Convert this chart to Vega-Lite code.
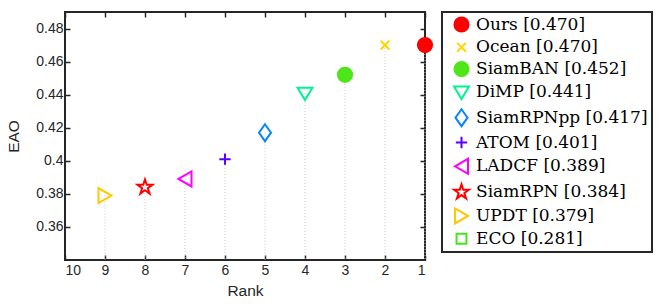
{
  "$schema": "https://vega.github.io/schema/vega-lite/v6.json",
  "width": 360,
  "height": 248,
  "autosize": {"type": "none"},
  "padding": {"left": 65, "top": 12, "right": 240, "bottom": 46},
  "background": "white",
  "data": {
    "values": [
      {"name": "Ours", "label": "Ours [0.470]", "rank": 1, "eao": 0.470},
      {"name": "Ocean", "label": "Ocean [0.470]", "rank": 2, "eao": 0.470},
      {"name": "SiamBAN", "label": "SiamBAN [0.452]", "rank": 3, "eao": 0.452},
      {"name": "DiMP", "label": "DiMP [0.441]", "rank": 4, "eao": 0.441},
      {"name": "SiamRPNpp", "label": "SiamRPNpp [0.417]", "rank": 5, "eao": 0.417},
      {"name": "ATOM", "label": "ATOM [0.401]", "rank": 6, "eao": 0.401},
      {"name": "LADCF", "label": "LADCF [0.389]", "rank": 7, "eao": 0.389},
      {"name": "SiamRPN", "label": "SiamRPN [0.384]", "rank": 8, "eao": 0.384},
      {"name": "UPDT", "label": "UPDT [0.379]", "rank": 9, "eao": 0.379},
      {"name": "ECO", "label": "ECO [0.281]", "rank": 10, "eao": 0.281}
    ]
  },
  "transform": [{"filter": "datum.eao >= 0.34"}],
  "layer": [
    {
      "mark": {"type": "rule", "strokeDash": [1, 2], "color": "#c4c4c4", "strokeWidth": 1},
      "encoding": {
        "x": {
          "field": "rank", "type": "quantitative",
          "scale": {"domain": [1, 10], "reverse": true, "nice": false, "zero": false},
          "axis": {"orient": "bottom", "values": [1,2,3,4,5,6,7,8,9,10], "title": "Rank", "titlePadding": 6, "labelPadding": 8}
        },
        "y": {
          "field": "eao", "type": "quantitative",
          "scale": {"domain": [0.34, 0.49], "nice": false, "zero": false},
          "axis": {"orient": "left", "values": [0.36,0.38,0.4,0.42,0.44,0.46,0.48], "format": ".2~f", "title": "EAO", "titlePadding": 14, "labelPadding": 7}
        },
        "y2": {"datum": 0.34}
      }
    },
    {
      "mark": {"type": "point", "strokeWidth": 2, "size": 200, "opacity": 1},
      "encoding": {
        "x": {
          "field": "rank", "type": "quantitative",
          "axis": {"orient": "top", "values": [1,2,3,4,5,6,7,8,9,10], "labels": false, "title": null}
        },
        "y": {
          "field": "eao", "type": "quantitative",
          "axis": {"orient": "right", "values": [0.36,0.38,0.4,0.42,0.44,0.46,0.48], "labels": false, "title": null}
        },
        "shape": {
          "field": "label", "type": "nominal",
          "scale": {
            "domain": ["Ours [0.470]", "Ocean [0.470]", "SiamBAN [0.452]", "DiMP [0.441]", "SiamRPNpp [0.417]", "ATOM [0.401]", "LADCF [0.389]", "SiamRPN [0.384]", "UPDT [0.379]", "ECO [0.281]"],
            "range": [
              "circle",
              "M-0.62,-0.62L0.62,0.62M-0.62,0.62L0.62,-0.62",
              "circle",
              "M-1.05,-0.75L1.05,-0.75L0,1.0Z",
              "M0,-1.2L0.85,0L0,1.2L-0.85,0Z",
              "M-0.8,0L0.8,0M0,-0.8L0,0.8",
              "M-0.92,0L0.92,-1.06L0.92,1.06Z",
              "M0,-1.1L0.247,-0.34L1.046,-0.34L0.4,0.13L0.647,0.89L0,0.42L-0.647,0.89L-0.4,0.13L-1.046,-0.34L-0.247,-0.34Z",
              "M0.92,0L-0.92,-1.06L-0.92,1.06Z",
              "M-0.7,-0.7L0.7,-0.7L0.7,0.7L-0.7,0.7Z"
            ]
          },
          "legend": {"title": null, "orient": "none", "legendX": 377, "legendY": 0}
        },
        "stroke": {
          "field": "label", "type": "nominal",
          "scale": {
            "domain": ["Ours [0.470]", "Ocean [0.470]", "SiamBAN [0.452]", "DiMP [0.441]", "SiamRPNpp [0.417]", "ATOM [0.401]", "LADCF [0.389]", "SiamRPN [0.384]", "UPDT [0.379]", "ECO [0.281]"],
            "range": ["#FF0000", "#FFD700", "#4DE619", "#00F293", "#0A84FF", "#5A00FF", "#FF00FF", "#FF0000", "#FFC800", "#44E61A"]
          },
          "legend": {"title": null, "orient": "none", "legendX": 377, "legendY": 0}
        },
        "fill": {
          "field": "label", "type": "nominal",
          "scale": {
            "domain": ["Ours [0.470]", "Ocean [0.470]", "SiamBAN [0.452]", "DiMP [0.441]", "SiamRPNpp [0.417]", "ATOM [0.401]", "LADCF [0.389]", "SiamRPN [0.384]", "UPDT [0.379]", "ECO [0.281]"],
            "range": ["#FF0000", "transparent", "#4DE619", "transparent", "transparent", "transparent", "transparent", "transparent", "transparent", "transparent"]
          },
          "legend": {"title": null, "orient": "none", "legendX": 377, "legendY": 0}
        }
      }
    }
  ],
  "resolve": {"axis": {"x": "independent", "y": "independent"}},
  "config": {
    "view": {"stroke": "#262626", "strokeWidth": 2},
    "axis": {
      "domain": false, "grid": false,
      "tickColor": "#262626", "tickSize": -5, "tickWidth": 1.5,
      "labelFont": "Liberation Sans", "labelFontSize": 14, "labelColor": "#262626",
      "titleFont": "Liberation Sans", "titleFontSize": 15.5, "titleFontWeight": "normal", "titleColor": "#262626"
    },
    "legend": {
      "labelFont": "DejaVu Serif", "labelFontSize": 17, "labelColor": "#000000", "labelLimit": 400,
      "symbolSize": 200, "symbolStrokeWidth": 2, "symbolOpacity": 1,
      "strokeColor": "#262626", "strokeWidth": 2, "padding": 4, "rowPadding": 1.8,
      "symbolOffset": 7, "labelOffset": 6
    }
  }
}
